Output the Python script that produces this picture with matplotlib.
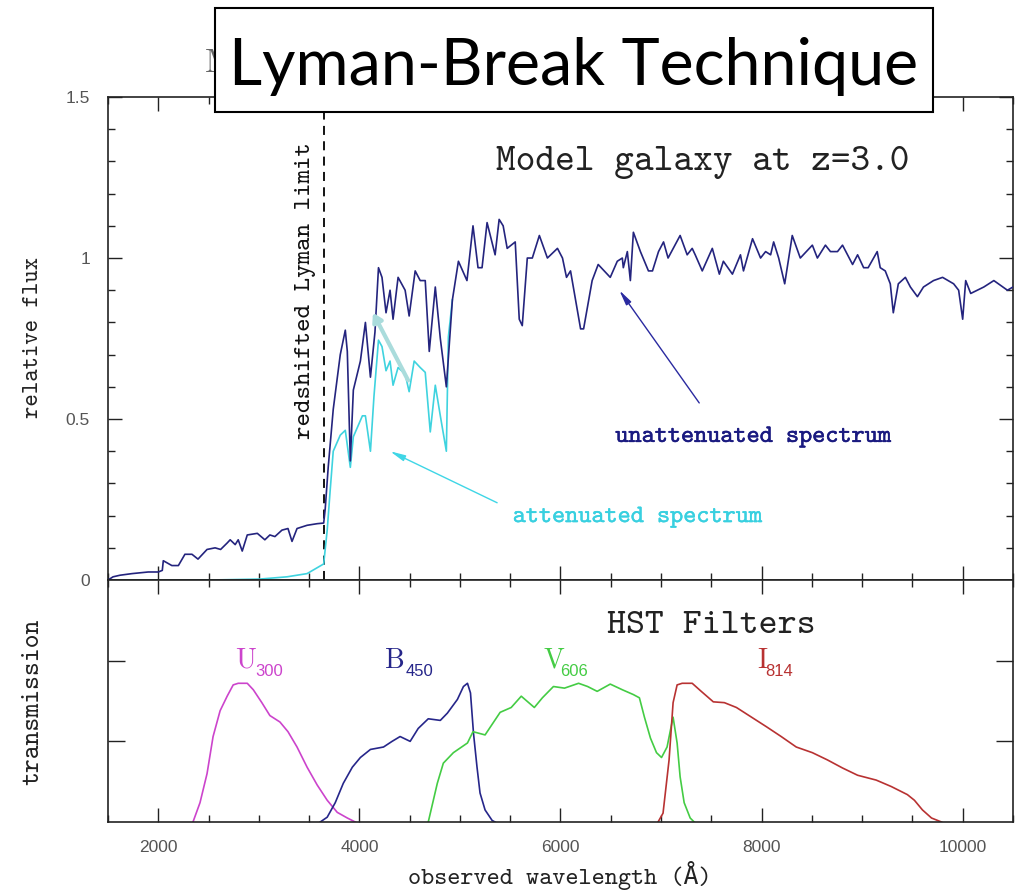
import numpy as np
import matplotlib
matplotlib.use("Agg")
import matplotlib.pyplot as plt
from matplotlib.ticker import MultipleLocator, FixedLocator, FuncFormatter
from matplotlib.patches import Rectangle
import matplotlib.patheffects as pe

# unattenuated model spectrum (observed wavelength in A, relative flux)
wave_full = [1500, 1550, 1620, 1740, 1900, 2000, 2040, 2050, 2135, 2200, 2265, 2335, 2395,
             2485, 2565, 2620, 2685, 2715, 2765, 2795, 2835, 2885, 2985, 3060, 3110, 3160,
             3230, 3290, 3330, 3380, 3480, 3580, 3645, 3660, 3690, 3740, 3810, 3860, 3880,
             3900, 3910, 3940, 4010, 4060, 4110, 4155, 4190, 4225, 4265, 4305, 4335, 4385,
             4455, 4495, 4555, 4605, 4655, 4695, 4755, 4805, 4865, 4925, 4985, 5070, 5130,
             5180, 5220, 5270, 5350, 5390, 5430, 5470, 5550, 5590, 5620, 5670, 5720, 5790,
             5870, 5970, 6020, 6060, 6100, 6200, 6230, 6315, 6375, 6495, 6565, 6615, 6625,
             6665, 6695, 6725, 6795, 6875, 6915, 6975, 7025, 7070, 7190, 7260, 7310, 7340,
             7410, 7510, 7580, 7620, 7710, 7790, 7820, 7910, 7990, 8040, 8090, 8120, 8170,
             8230, 8305, 8385, 8505, 8555, 8635, 8685, 8755, 8805, 8905, 8955, 9015, 9060,
             9150, 9180, 9230, 9280, 9310, 9360, 9430, 9480, 9550, 9610, 9710, 9800, 9910,
             9960, 10000, 10030, 10080, 10210, 10310, 10445, 10500]
flux_full = [0.00, 0.01, 0.015, 0.02, 0.025, 0.025, 0.03, 0.06, 0.045, 0.045, 0.08, 0.08, 0.065,
             0.095, 0.10, 0.095, 0.115, 0.125, 0.11, 0.125, 0.09, 0.14, 0.145, 0.125, 0.14, 0.135,
             0.155, 0.16, 0.12, 0.16, 0.17, 0.175, 0.177, 0.22, 0.35, 0.53, 0.70, 0.776, 0.71,
             0.49, 0.37, 0.59, 0.68, 0.80, 0.63, 0.77, 0.97, 0.94, 0.83, 0.90, 0.81, 0.94,
             0.90, 0.82, 0.96, 0.93, 0.93, 0.71, 0.91, 0.75, 0.60, 0.87, 0.99, 0.93, 1.10,
             0.97, 0.97, 1.11, 1.01, 1.12, 1.10, 1.03, 1.05, 0.81, 0.79, 1.00, 1.00, 1.07,
             1.00, 1.03, 1.00, 0.94, 0.96, 0.78, 0.78, 0.93, 0.98, 0.94, 0.99, 1.00, 0.97,
             1.02, 0.93, 1.08, 1.02, 0.96, 0.96, 1.02, 1.05, 1.00, 1.07, 1.01, 1.03, 1.01,
             0.96, 1.03, 0.95, 0.99, 0.95, 1.01, 0.96, 1.06, 1.00, 1.02, 1.01, 1.05, 1.00,
             0.92, 1.07, 1.00, 1.04, 1.00, 1.04, 1.02, 1.02, 1.04, 0.98, 1.01, 0.97, 0.97,
             1.02, 0.97, 0.96, 0.92, 0.83, 0.92, 0.94, 0.91, 0.88, 0.91, 0.93, 0.94, 0.92,
             0.90, 0.81, 0.93, 0.89, 0.91, 0.93, 0.90, 0.91]

# attenuated spectrum (joins the unattenuated one redward of ~4900 A)
wave_att = [1500, 2000, 2500, 3010, 3280, 3480, 3590, 3645, 3680, 3710, 3740, 3810, 3860,
            3910, 3940, 4030, 4060, 4110, 4145, 4190, 4225, 4265, 4305, 4335, 4385, 4455,
            4495, 4545, 4605, 4655, 4705, 4755, 4805, 4865, 4885, 4925]
flux_att = [0.0, 0.0, 0.0, 0.003, 0.01, 0.02, 0.04, 0.05, 0.155, 0.28, 0.40, 0.45, 0.465,
            0.35, 0.445, 0.51, 0.51, 0.40, 0.57, 0.745, 0.725, 0.65, 0.68, 0.605, 0.66, 0.64,
            0.585, 0.68, 0.66, 0.645, 0.46, 0.605, 0.51, 0.40, 0.755, 0.87]

# HST filter curves
u_wave = [2345, 2415, 2485, 2545, 2615, 2685, 2745, 2795, 2885, 2945, 3030, 3110, 3210,
          3290, 3380, 3480, 3580, 3680, 3780, 3880, 3960]
u_trans = [0.0, 0.12, 0.30, 0.53, 0.69, 0.78, 0.85, 0.86, 0.86, 0.82, 0.74, 0.66, 0.62,
           0.56, 0.465, 0.34, 0.23, 0.135, 0.06, 0.025, 0.0]
b_wave = [3610, 3680, 3760, 3840, 3930, 4010, 4110, 4240, 4325, 4405, 4505, 4585, 4685,
          4805, 4875, 4975, 5035, 5075, 5105, 5135, 5170, 5200, 5250, 5320, 5350]
b_trans = [0.0, 0.03, 0.12, 0.24, 0.34, 0.40, 0.45, 0.465, 0.50, 0.53, 0.50, 0.58, 0.64,
           0.63, 0.675, 0.76, 0.84, 0.86, 0.80, 0.55, 0.34, 0.18, 0.075, 0.01, 0.0]
v_wave = [4685, 4775, 4835, 4935, 5075, 5130, 5250, 5400, 5510, 5610, 5740, 5820, 5930,
          6040, 6180, 6270, 6365, 6495, 6615, 6725, 6785, 6835, 6895, 6955, 7005, 7060,
          7100, 7120, 7160, 7190, 7230, 7290, 7330]
v_trans = [0.0, 0.24, 0.365, 0.43, 0.49, 0.56, 0.54, 0.68, 0.71, 0.78, 0.71, 0.77, 0.84,
           0.83, 0.86, 0.84, 0.81, 0.855, 0.82, 0.79, 0.77, 0.65, 0.52, 0.43, 0.40, 0.465,
           0.59, 0.65, 0.49, 0.28, 0.12, 0.025, 0.0]
i_wave = [6970, 7020, 7080, 7120, 7160, 7210, 7310, 7400, 7520, 7630, 7750, 7900, 8050,
          8195, 8345, 8505, 8655, 8805, 8955, 9140, 9290, 9450, 9520, 9600, 9690, 9790]
i_trans = [0.0, 0.055, 0.385, 0.74, 0.85, 0.86, 0.86, 0.81, 0.745, 0.74, 0.71, 0.65, 0.59,
           0.53, 0.465, 0.43, 0.385, 0.335, 0.29, 0.26, 0.22, 0.17, 0.135, 0.075, 0.025, 0.0]

lyman_limit = 912 * 4.0

MONO = ["cmtt10", "DejaVu Sans Mono"]
NAVY = "#24247e"
CYAN = "#3fd3df"

fig = plt.figure(figsize=(10.16, 8.91), dpi=100)
ax1 = fig.add_axes([0.1063, 0.349, 0.8907, 0.5421])
ax2 = fig.add_axes([0.1063, 0.0774, 0.8907, 0.2716])

for ax in (ax1, ax2):
    ax.set_xlim(1500, 10500)
    ax.xaxis.set_major_locator(MultipleLocator(2000))
    ax.xaxis.set_minor_locator(MultipleLocator(500))
    ax.tick_params(which="both", direction="in", top=True, right=True, width=1.0,
                   colors="#222222", labelcolor="#555555", labelsize=12.5, pad=13)
    ax.tick_params(which="major", length=10)
    ax.tick_params(which="minor", length=5)
    for s in ax.spines.values():
        s.set_linewidth(1.2)
        s.set_color("#222222")
    for lab in ax.get_xticklabels() + ax.get_yticklabels():
        lab.set_family("Liberation Sans")

fmt = FuncFormatter(lambda v, p: "%g" % v)

# top panel: spectra
ax1.set_ylim(0, 1.5)
ax1.yaxis.set_major_locator(MultipleLocator(0.5))
ax1.yaxis.set_minor_locator(MultipleLocator(0.1))
ax1.yaxis.set_major_formatter(fmt)
ax1.tick_params(labelbottom=False)
ax1.plot(wave_att, flux_att, color=CYAN, lw=1.2, zorder=2)
ax1.plot(wave_full, flux_full, color=NAVY, lw=1.2, zorder=3)
ax1.axvline(lyman_limit, color="black", lw=1.3, ls=(0, (5, 3.5)), zorder=1)

ax1.text(3460, 0.90, "redshifted Lyman limit", rotation=90, ha="center", va="center",
         fontsize=18.5, family=MONO, color="#111111")
ax1.text(7410, 1.273, "Model galaxy at z=3.0", ha="center", va="baseline",
         fontsize=27, family=MONO, color="#222222")
ax1.text(7915, 0.429, "unattenuated spectrum", ha="center", va="baseline", fontsize=18,
         family=MONO, color="#1a1a80",
         path_effects=[pe.withStroke(linewidth=0.35, foreground="#1a1a80")])
ax1.text(6763, 0.18, "attenuated spectrum", ha="center", va="baseline", fontsize=18,
         family=MONO, color="#38d0e0",
         path_effects=[pe.withStroke(linewidth=0.25, foreground="#38d0e0")])

ax1.annotate("", xy=(6585, 0.90), xytext=(7380, 0.55),
             arrowprops=dict(arrowstyle="-|>,head_length=0.9,head_width=0.18",
                             color="#2a2aa0", lw=1.0, shrinkA=0, shrinkB=0))
ax1.annotate("", xy=(4305, 0.40), xytext=(5370, 0.24),
             arrowprops=dict(arrowstyle="-|>,head_length=0.9,head_width=0.18",
                             color="#3fd6e6", lw=1.0, shrinkA=0, shrinkB=0))
ax1.annotate("", xy=(4135, 0.83), xytext=(4485, 0.62), zorder=4,
             arrowprops=dict(arrowstyle="-|>,head_length=0.5,head_width=0.3",
                             color="#aadcdc", lw=3.0, shrinkA=0, shrinkB=0))

# bottom panel: filters
ax2.set_ylim(0, 1.5)
ax2.yaxis.set_major_locator(FixedLocator([0.5, 1.0]))
ax2.yaxis.set_minor_locator(FixedLocator([]))
ax2.tick_params(labelleft=False)
ax2.xaxis.set_major_formatter(fmt)
ax2.tick_params(axis="y", which="major", length=12)

filters = [
    (u_wave, u_trans, "#cc44cc", "U", "300", 2764, 2963),
    (b_wave, b_trans, "#26268a", "B", "450", 4256, 4455),
    (v_wave, v_trans, "#44cc44", "V", "606", 5828, 5997),
    (i_wave, i_trans, "#b83232", "I", "814", 7958, 8037),
]
for w, t, c, name, sub, x_main, x_sub in filters:
    ax2.plot(w, t, color=c, lw=1.2)
    ax2.text(x_main, 0.955, name, color=c, fontsize=20, family="cmr10",
             ha="left", va="baseline")
    ax2.text(x_sub, 0.905, sub, color=c, fontsize=12, family="Liberation Sans",
             ha="left", va="baseline")

ax2.text(7500, 1.172, "HST Filters", ha="center", va="baseline", fontsize=26,
         family=MONO, color="#222222")

# axis labels
fig.text(0.0325, 1 - 338 / 891, "relative flux", rotation=90, ha="center", va="center",
         fontsize=17, family=MONO, color="#222222")
fig.text(0.0325, 1 - 702 / 891, "transmission", rotation=90, ha="center", va="center",
         fontsize=19, family=MONO, color="#222222")
fig.text(0.551, 0.017, "observed wavelength (Å)", ha="center", va="center",
         fontsize=18, family=MONO, color="#222222")

# slide title box over the original plot title
fig.text(0.2018, 1 - 72 / 891, "M", fontsize=24, family="cmr10", color="#666666",
         va="baseline", zorder=1)
box = Rectangle((0.2116, 0.8743), 0.7067, 0.1167, transform=fig.transFigure,
                facecolor="white", edgecolor="black", lw=1.5, zorder=10)
fig.add_artist(box)
fig.text(0.565, 1 - 85 / 891, "Lyman-Break Technique", ha="center", va="baseline",
         fontsize=46.5, family="Lato", color="black", zorder=11)

fig.savefig("out.png", dpi=100)
